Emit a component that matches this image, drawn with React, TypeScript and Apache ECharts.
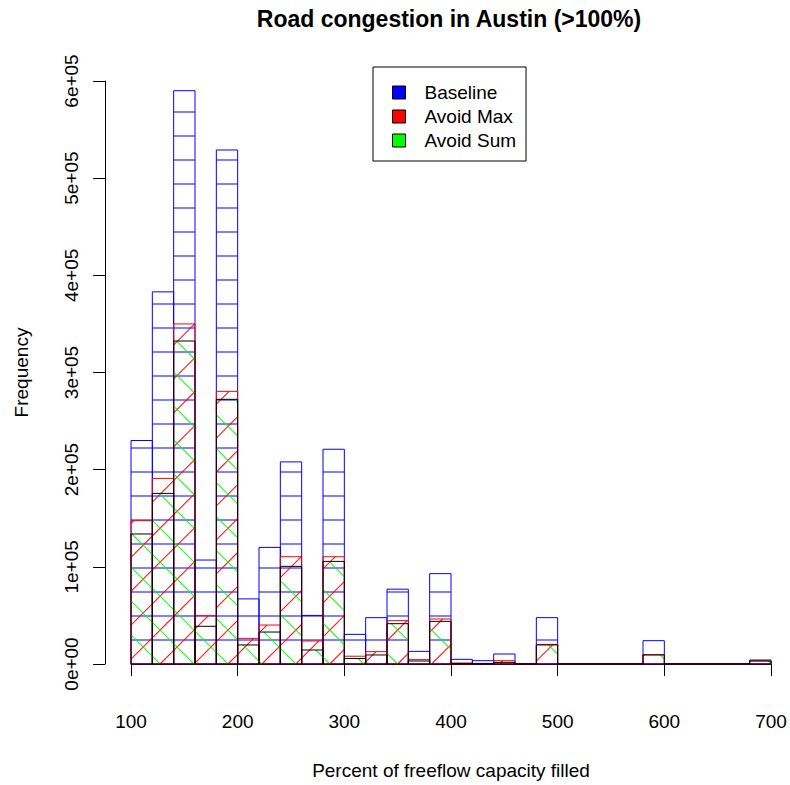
import React, { useEffect, useRef } from "react";
import * as echarts from "echarts";

// Histogram bin edges (percent of freeflow capacity filled)
const breaks = [100, 120, 140, 160, 180, 200, 220, 240, 260, 280, 300, 320, 340, 360, 380, 400, 420, 440, 460, 480, 500, 520, 540, 560, 580, 600, 620, 640, 660, 680, 700];

// Frequencies per bin
const baseline = [230000, 383000, 590000, 107000, 529000, 67000, 120000, 208000, 50000, 221000, 30500, 47700, 77000, 13000, 93000, 4800, 3400, 10300, 0, 47700, 0, 0, 0, 0, 24000, 0, 0, 0, 0, 4100];
const avoidMax = [147500, 191000, 350000, 49700, 280600, 26400, 40100, 110400, 23700, 110400, 8000, 12700, 44600, 4500, 46300, 1000, 600, 3400, 0, 20200, 0, 0, 0, 0, 9600, 0, 0, 0, 0, 3300];
const avoidSum = [133800, 175600, 332400, 38800, 272400, 19600, 32900, 100500, 14400, 105600, 5600, 9300, 41500, 3100, 43900, 500, 300, 1700, 0, 19600, 0, 0, 0, 0, 9300, 0, 0, 0, 0, 3100];

const xTicks = [100, 200, 300, 400, 500, 600, 700];
const yTickLabels = ["0e+00", "1e+05", "2e+05", "3e+05", "4e+05", "5e+05", "6e+05"];

const seriesNames = ["Baseline", "Avoid Max", "Avoid Sum"];
const FONT = "'Liberation Sans', Arial, Helvetica, sans-serif";

const HSPACE = 24; // hatch spacing (px, perpendicular)
const DSPACE = 24 * Math.SQRT2;

function toData(values: number[]) {
  return values.map((v, i) => [breaks[i], breaks[i + 1], v]);
}

function makeRender(kind: "h" | "up" | "down", hatchColor: string, borderColor: string) {
  return (params: any, api: any) => {
    const x1v = api.value(0);
    const x2v = api.value(1);
    const v = api.value(2);
    const [px1, pyt] = api.coord([x1v, v]);
    const [px2, pyb] = api.coord([x2v, 0]);
    const [ox, oy] = api.coord([0, 0]);
    const children: any[] = [];
    const ls = { stroke: hatchColor, lineWidth: 1.1, opacity: 0.9 };
    if (pyb - pyt > 0.5) {
      if (kind === "h") {
        for (let k = 1; ; k++) {
          const y = oy - HSPACE * k;
          if (y <= pyt) break;
          if (y < pyb) children.push({ type: "line", shape: { x1: px1, y1: y, x2: px2, y2: y }, style: ls });
        }
      } else if (kind === "up") {
        // x + y = c
        const base = ox + oy;
        const cmin = px1 + pyt;
        const cmax = px2 + pyb;
        const kmin = Math.ceil((cmin - base) / DSPACE);
        const kmax = Math.floor((cmax - base) / DSPACE);
        for (let k = kmin; k <= kmax; k++) {
          const c = base + k * DSPACE;
          const xa = Math.max(px1, c - pyb);
          const xb = Math.min(px2, c - pyt);
          if (xb - xa > 0.2) children.push({ type: "line", shape: { x1: xa, y1: c - xa, x2: xb, y2: c - xb }, style: ls });
        }
      } else {
        // x - y = c
        const base = ox - oy;
        const cmin = px1 - pyb;
        const cmax = px2 - pyt;
        const kmin = Math.ceil((cmin - base) / DSPACE);
        const kmax = Math.floor((cmax - base) / DSPACE);
        for (let k = kmin; k <= kmax; k++) {
          const c = base + k * DSPACE;
          const xa = Math.max(px1, c + pyt);
          const xb = Math.min(px2, c + pyb);
          if (xb - xa > 0.2) children.push({ type: "line", shape: { x1: xa, y1: xa - c, x2: xb, y2: xb - c }, style: ls });
        }
      }
    }
    children.push({
      type: "polygon",
      shape: { points: [[px1, pyb], [px2, pyb], [px2, pyt], [px1, pyt]] },
      style: { fill: "none", stroke: borderColor, lineWidth: 1 },
    });
    return { type: "group", children };
  };
}

export default function App() {
  const ref = useRef<HTMLDivElement>(null);
  useEffect(() => {
    if (!ref.current) return;
    const chart = echarts.init(ref.current, null, { renderer: "svg" });
    const colors = ["#0000ff", "#ff0000", "#00ff00"];
    const borders = ["#0000ff", "#ff0000", "#000000"];
    const kinds: ("h" | "up" | "down")[] = ["h", "up", "down"];
    const datasets = [baseline, avoidMax, avoidSum];
    chart.setOption({
      animation: false,
      backgroundColor: "#ffffff",
      title: {
        text: "Road congestion in Austin (>100%)",
        left: 449,
        textAlign: "center",
        top: 7,
        padding: 0,
        textStyle: { fontSize: 23, fontWeight: "bold", fontFamily: FONT, color: "#000", lineHeight: 23 },
      },
      legend: {
        left: 373,
        top: 67,
        orient: "vertical",
        borderColor: "#000",
        borderWidth: 1,
        padding: [16, 10, 11, 19],
        itemWidth: 13,
        itemHeight: 13,
        itemGap: 5,
        selectedMode: false,
        textStyle: { fontSize: 19, fontFamily: FONT, color: "#000", lineHeight: 19, padding: [0, 0, 0, 14] },
        data: seriesNames.map((n, i) => ({
          name: n,
          icon: "rect",
          itemStyle: { color: colors[i], borderColor: "#000", borderWidth: 1 },
        })),
      },
      grid: { left: 131, top: 81, width: 640, height: 583, containLabel: false },
      xAxis: {
        type: "value",
        min: 100,
        max: 700,
        interval: 100,
        offset: 23,
        name: "Percent of freeflow capacity filled",
        nameLocation: "middle",
        nameGap: 74,
        nameTextStyle: { fontSize: 19, fontFamily: FONT, color: "#000" },
        axisLine: { show: true, lineStyle: { color: "#000", width: 1 } },
        axisTick: { show: true, length: 12, lineStyle: { color: "#000" } },
        axisLabel: {
          fontSize: 19,
          fontFamily: FONT,
          color: "#000",
          margin: 25,
          formatter: (v: number) => (xTicks.indexOf(v) >= 0 ? String(v) : ""),
        },
        splitLine: { show: false },
      },
      yAxis: {
        type: "value",
        min: 0,
        max: 600000,
        interval: 100000,
        offset: 26,
        name: "Frequency",
        nameLocation: "middle",
        nameGap: 74,
        nameTextStyle: { fontSize: 19, fontFamily: FONT, color: "#000" },
        axisLine: { show: true, lineStyle: { color: "#000", width: 1 } },
        axisTick: { show: true, length: 12, lineStyle: { color: "#000" } },
        axisLabel: {
          rotate: 90,
          fontSize: 19,
          fontFamily: FONT,
          color: "#000",
          margin: 24,
          formatter: (v: number) => yTickLabels[Math.round(v / 100000)] ?? "",
        },
        splitLine: { show: false },
      },
      series: datasets.map((vals, i) => ({
        name: seriesNames[i],
        type: "custom",
        coordinateSystem: "cartesian2d",
        clip: false,
        itemStyle: { color: colors[i] },
        encode: { x: [0, 1], y: 2 },
        renderItem: makeRender(kinds[i], colors[i], borders[i]),
        data: toData(vals),
        z: 2 + i,
      })),
    });
    return () => chart.dispose();
  }, []);
  return <div ref={ref} style={{ position: "absolute", left: 0, top: 0, width: 790, height: 785 }} />;
}
